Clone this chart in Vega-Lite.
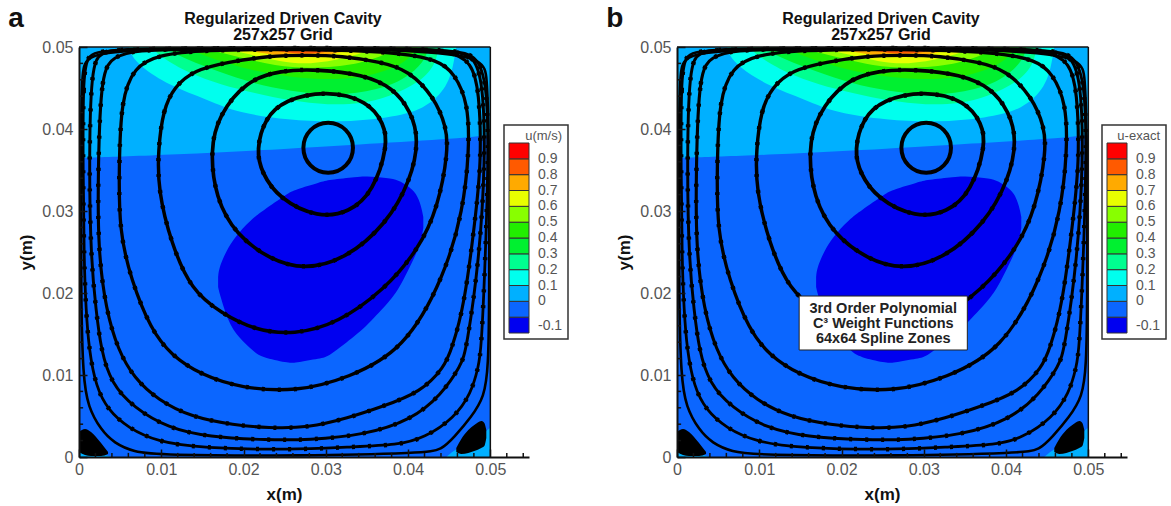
{
"$schema":"https://vega.github.io/schema/vega-lite/v6.json",
"background":"white",
"padding":{"left":8,"top":4,"right":3,"bottom":3},
"spacing":37,
"resolve":{"scale":{"color":"independent"}},
"config":{"view":{"stroke":null},"font":"Liberation Sans",
"axis":{"grid":false,"domainColor":"#111","domainWidth":2,"tickColor":"#111","tickWidth":1.5,"tickSize":-8,"labelColor":"#555","labelFont":"Liberation Sans","labelFontSize":16,"labelFlush":false,"labelOverlap":false,"titleFont":"Liberation Sans","titleFontSize":17,"titleFontWeight":"bold","titleColor":"#111"},
"legend":{"orient":"none","legendX":425,"legendY":78,"padding":5,"strokeColor":"#333","strokeWidth":1.5,"fillColor":"white","gradientLength":190,"gradientThickness":20,"labelFont":"Liberation Sans","labelFontSize":14,"labelColor":"#555","gradientLabelOffset":9,"titleFont":"Liberation Sans","titleFontSize":13,"titleFontWeight":"normal","titleColor":"#555","titlePadding":0,"titleAnchor":"end","gradientStrokeColor":"#333","gradientStrokeWidth":1}},
"datasets":{
"regions":[
{"r":"base","u":-0.05,"x":0,"y":0.05,"b":0},{"r":"base","u":-0.05,"x":0.05,"y":0.05,"b":0},
{"r":"sky","u":0.05,"x":0,"y":0.05,"b":0.03646},{"r":"sky","u":0.05,"x":0.01119,"y":0.05,"b":0.03683},{"r":"sky","u":0.05,"x":0.02701,"y":0.05,"b":0.03768},{"r":"sky","u":0.05,"x":0.03309,"y":0.05,"b":0.03805},{"r":"sky","u":0.05,"x":0.04525,"y":0.05,"b":0.03878},{"r":"sky","u":0.05,"x":0.05,"y":0.05,"b":0.03927},
{"r":"cyan","u":0.15,"x":0.00608,"y":0.05,"b":0.05},{"r":"cyan","u":0.15,"x":0.00633,"y":0.05,"b":0.04902},{"r":"cyan","u":0.15,"x":0.00754,"y":0.05,"b":0.04756},{"r":"cyan","u":0.15,"x":0.01083,"y":0.05,"b":0.04537},{"r":"cyan","u":0.15,"x":0.01569,"y":0.05,"b":0.04354},{"r":"cyan","u":0.15,"x":0.01934,"y":0.05,"b":0.04195},{"r":"cyan","u":0.15,"x":0.02543,"y":0.05,"b":0.0411},{"r":"cyan","u":0.15,"x":0.03151,"y":0.05,"b":0.04079},{"r":"cyan","u":0.15,"x":0.03759,"y":0.05,"b":0.04134},{"r":"cyan","u":0.15,"x":0.04197,"y":0.05,"b":0.04232},{"r":"cyan","u":0.15,"x":0.04489,"y":0.05,"b":0.04512},{"r":"cyan","u":0.15,"x":0.04562,"y":0.05,"b":0.04841},{"r":"cyan","u":0.15,"x":0.04586,"y":0.05,"b":0.05},
{"r":"spring","u":0.25,"x":0.00876,"y":0.05,"b":0.05},{"r":"spring","u":0.25,"x":0.00998,"y":0.05,"b":0.04878},{"r":"spring","u":0.25,"x":0.01326,"y":0.05,"b":0.04683},{"r":"spring","u":0.25,"x":0.01727,"y":0.05,"b":0.04537},{"r":"spring","u":0.25,"x":0.02129,"y":0.05,"b":0.04439},{"r":"spring","u":0.25,"x":0.02579,"y":0.05,"b":0.04341},{"r":"spring","u":0.25,"x":0.03029,"y":0.05,"b":0.04293},{"r":"spring","u":0.25,"x":0.03431,"y":0.05,"b":0.04305},{"r":"spring","u":0.25,"x":0.03759,"y":0.05,"b":0.0439},{"r":"spring","u":0.25,"x":0.0416,"y":0.05,"b":0.04573},{"r":"spring","u":0.25,"x":0.04343,"y":0.05,"b":0.04805},{"r":"spring","u":0.25,"x":0.04367,"y":0.05,"b":0.05},
{"r":"g1","u":0.35,"x":0.01058,"y":0.05,"b":0.05},{"r":"g1","u":0.35,"x":0.0118,"y":0.05,"b":0.04902},{"r":"g1","u":0.35,"x":0.01484,"y":0.05,"b":0.0478},{"r":"g1","u":0.35,"x":0.0191,"y":0.05,"b":0.04622},{"r":"g1","u":0.35,"x":0.02336,"y":0.05,"b":0.045},{"r":"g1","u":0.35,"x":0.02822,"y":0.05,"b":0.04427},{"r":"g1","u":0.35,"x":0.03248,"y":0.05,"b":0.04415},{"r":"g1","u":0.35,"x":0.03735,"y":0.05,"b":0.045},{"r":"g1","u":0.35,"x":0.04039,"y":0.05,"b":0.04658},{"r":"g1","u":0.35,"x":0.04221,"y":0.05,"b":0.04866},{"r":"g1","u":0.35,"x":0.04246,"y":0.05,"b":0.05},
{"r":"g2","u":0.45,"x":0.01302,"y":0.05,"b":0.05},{"r":"g2","u":0.45,"x":0.01484,"y":0.05,"b":0.04902},{"r":"g2","u":0.45,"x":0.01971,"y":0.05,"b":0.04744},{"r":"g2","u":0.45,"x":0.02457,"y":0.05,"b":0.04646},{"r":"g2","u":0.45,"x":0.02944,"y":0.05,"b":0.04597},{"r":"g2","u":0.45,"x":0.03431,"y":0.05,"b":0.04622},{"r":"g2","u":0.45,"x":0.03856,"y":0.05,"b":0.04744},{"r":"g2","u":0.45,"x":0.04063,"y":0.05,"b":0.04902},{"r":"g2","u":0.45,"x":0.04112,"y":0.05,"b":0.05},
{"r":"yg","u":0.55,"x":0.0145,"y":0.05,"b":0.05},{"r":"yg","u":0.55,"x":0.018,"y":0.05,"b":0.04915},{"r":"yg","u":0.55,"x":0.024,"y":0.05,"b":0.0476},{"r":"yg","u":0.55,"x":0.029,"y":0.05,"b":0.04735},{"r":"yg","u":0.55,"x":0.0345,"y":0.05,"b":0.048},{"r":"yg","u":0.55,"x":0.0375,"y":0.05,"b":0.0492},{"r":"yg","u":0.55,"x":0.039,"y":0.05,"b":0.05},
{"r":"yel","u":0.65,"x":0.0171,"y":0.05,"b":0.05},{"r":"yel","u":0.65,"x":0.0205,"y":0.05,"b":0.04915},{"r":"yel","u":0.65,"x":0.0245,"y":0.05,"b":0.0482},{"r":"yel","u":0.65,"x":0.028,"y":0.05,"b":0.04785},{"r":"yel","u":0.65,"x":0.0325,"y":0.05,"b":0.0486},{"r":"yel","u":0.65,"x":0.0363,"y":0.05,"b":0.05},
{"r":"or","u":0.75,"x":0.0185,"y":0.05,"b":0.05},{"r":"or","u":0.75,"x":0.0225,"y":0.05,"b":0.0492},{"r":"or","u":0.75,"x":0.0265,"y":0.05,"b":0.0486},{"r":"or","u":0.75,"x":0.0305,"y":0.05,"b":0.049},{"r":"or","u":0.75,"x":0.0345,"y":0.05,"b":0.05},
{"r":"orr","u":0.85,"x":0.0215,"y":0.05,"b":0.05},{"r":"orr","u":0.85,"x":0.0245,"y":0.05,"b":0.0494},{"r":"orr","u":0.85,"x":0.0275,"y":0.05,"b":0.0491},{"r":"orr","u":0.85,"x":0.0305,"y":0.05,"b":0.0494},{"r":"orr","u":0.85,"x":0.0325,"y":0.05,"b":0.05},
{"r":"red","u":0.95,"x":0.0237,"y":0.05,"b":0.05},{"r":"red","u":0.95,"x":0.0272,"y":0.05,"b":0.0495},{"r":"red","u":0.95,"x":0.031,"y":0.05,"b":0.05},
{"r":"dk","u":-0.15,"x":0.01691,"y":0.02195,"b":0.02073},{"r":"dk","u":-0.15,"x":0.01703,"y":0.02317,"b":0.02012},{"r":"dk","u":-0.15,"x":0.01813,"y":0.02561,"b":0.01646},{"r":"dk","u":-0.15,"x":0.01934,"y":0.02732,"b":0.01463},{"r":"dk","u":-0.15,"x":0.02129,"y":0.02927,"b":0.0128},{"r":"dk","u":-0.15,"x":0.02214,"y":0.02988,"b":0.0122},{"r":"dk","u":-0.15,"x":0.02543,"y":0.03219,"b":0.01146},{"r":"dk","u":-0.15,"x":0.02615,"y":0.03256,"b":0.01146},{"r":"dk","u":-0.15,"x":0.02944,"y":0.03354,"b":0.01207},{"r":"dk","u":-0.15,"x":0.03029,"y":0.03378,"b":0.0122},{"r":"dk","u":-0.15,"x":0.03394,"y":0.03415,"b":0.01512},{"r":"dk","u":-0.15,"x":0.03467,"y":0.03427,"b":0.01573},{"r":"dk","u":-0.15,"x":0.03759,"y":0.03402,"b":0.01878},{"r":"dk","u":-0.15,"x":0.03881,"y":0.03378,"b":0.02037},{"r":"dk","u":-0.15,"x":0.04002,"y":0.03305,"b":0.0228},{"r":"dk","u":-0.15,"x":0.041,"y":0.03219,"b":0.02476},{"r":"dk","u":-0.15,"x":0.0416,"y":0.03061,"b":0.02646},{"r":"dk","u":-0.15,"x":0.04185,"y":0.02927,"b":0.02793},
{"r":"cl","u":0.05,"x":0,"y":0.0014,"b":0},{"r":"cl","u":0.05,"x":0.00146,"y":0.0003,"b":0},{"r":"cl","u":0.05,"x":0.0032,"y":0.0003,"b":0},{"r":"cl","u":0.05,"x":0.0039,"y":0,"b":0},
{"r":"cr","u":0.05,"x":0.04465,"y":0,"b":0},{"r":"cr","u":0.05,"x":0.04586,"y":0.0011,"b":0},{"r":"cr","u":0.05,"x":0.04769,"y":0.00146,"b":0},{"r":"cr","u":0.05,"x":0.0489,"y":0.00207,"b":0},{"r":"cr","u":0.05,"x":0.04951,"y":0.00329,"b":0},{"r":"cr","u":0.05,"x":0.05,"y":0.00354,"b":0}
],
"blobs":[
{"k":"l","x":0,"y":0.00305,"b":0.00061},{"k":"l","x":0.00073,"y":0.00341,"b":0.00024},{"k":"l","x":0.00146,"y":0.00305,"b":0.00012},{"k":"l","x":0.00268,"y":0.00171,"b":0.00012},{"k":"l","x":0.00353,"y":0.00061,"b":0.00037},
{"k":"r","x":0.04586,"y":0.0011,"b":0.00061},{"k":"r","x":0.04647,"y":0.0022,"b":0.00037},{"k":"r","x":0.04732,"y":0.00329,"b":0.00049},{"k":"r","x":0.04805,"y":0.0039,"b":0.00073},{"k":"r","x":0.0489,"y":0.00439,"b":0.0011},{"k":"r","x":0.04927,"y":0.00415,"b":0.00134},{"k":"r","x":0.04951,"y":0.00329,"b":0.00232}
],
"streams":[
{"s":"s1","i":0,"x":0.03029,"y":0.0411},{"s":"s1","i":1,"x":0.03267,"y":0.0401},{"s":"s1","i":2,"x":0.03362,"y":0.03772},{"s":"s1","i":3,"x":0.03267,"y":0.03534},{"s":"s1","i":4,"x":0.03029,"y":0.03434},{"s":"s1","i":5,"x":0.02791,"y":0.03534},{"s":"s1","i":6,"x":0.02696,"y":0.03772},{"s":"s1","i":7,"x":0.02791,"y":0.0401},
{"s":"s2","i":0,"x":0.02155,"y":0.03745},{"s":"s2","i":1,"x":0.02256,"y":0.04128},{"s":"s2","i":2,"x":0.02498,"y":0.04356},{"s":"s2","i":3,"x":0.03007,"y":0.04471},{"s":"s2","i":4,"x":0.03514,"y":0.04344},{"s":"s2","i":5,"x":0.03706,"y":0.04064},{"s":"s2","i":6,"x":0.03756,"y":0.03809},{"s":"s2","i":7,"x":0.03578,"y":0.03235},{"s":"s2","i":8,"x":0.03286,"y":0.0298},{"s":"s2","i":9,"x":0.02904,"y":0.02916},{"s":"s2","i":10,"x":0.02434,"y":0.03146},{"s":"s2","i":11,"x":0.02219,"y":0.03465},
{"s":"s3","i":0,"x":0.01595,"y":0.0375},{"s":"s3","i":1,"x":0.01695,"y":0.04164},{"s":"s3","i":2,"x":0.02033,"y":0.0459},{"s":"s3","i":3,"x":0.02445,"y":0.04716},{"s":"s3","i":4,"x":0.02908,"y":0.04728},{"s":"s3","i":5,"x":0.03447,"y":0.04665},{"s":"s3","i":6,"x":0.03821,"y":0.04503},{"s":"s3","i":7,"x":0.04034,"y":0.04214},{"s":"s3","i":8,"x":0.04134,"y":0.03876},{"s":"s3","i":9,"x":0.04034,"y":0.03374},{"s":"s3","i":10,"x":0.03734,"y":0.02835},{"s":"s3","i":11,"x":0.03234,"y":0.02409},{"s":"s3","i":12,"x":0.02733,"y":0.02283},{"s":"s3","i":13,"x":0.02321,"y":0.02409},{"s":"s3","i":14,"x":0.01908,"y":0.0271},{"s":"s3","i":15,"x":0.01658,"y":0.03161},
{"s":"s4","i":0,"x":0.00961,"y":0.03744},{"s":"s4","i":1,"x":0.01022,"y":0.04232},{"s":"s4","i":2,"x":0.01156,"y":0.04512},{"s":"s4","i":3,"x":0.01399,"y":0.04719},{"s":"s4","i":4,"x":0.01813,"y":0.04817},{"s":"s4","i":5,"x":0.02299,"y":0.0489},{"s":"s4","i":6,"x":0.02786,"y":0.04902},{"s":"s4","i":7,"x":0.03187,"y":0.0489},{"s":"s4","i":8,"x":0.03674,"y":0.04817},{"s":"s4","i":9,"x":0.04002,"y":0.04719},{"s":"s4","i":10,"x":0.04319,"y":0.0439},{"s":"s4","i":11,"x":0.04465,"y":0.04024},{"s":"s4","i":12,"x":0.04489,"y":0.03744},{"s":"s4","i":13,"x":0.04367,"y":0.03049},{"s":"s4","i":14,"x":0.04124,"y":0.02524},{"s":"s4","i":15,"x":0.0371,"y":0.02037},{"s":"s4","i":16,"x":0.03151,"y":0.01634},{"s":"s4","i":17,"x":0.02615,"y":0.01488},{"s":"s4","i":18,"x":0.02129,"y":0.01549},{"s":"s4","i":19,"x":0.01727,"y":0.01756},{"s":"s4","i":20,"x":0.01362,"y":0.02037},{"s":"s4","i":21,"x":0.01119,"y":0.0261},{"s":"s4","i":22,"x":0.00961,"y":0.03256},
{"s":"s5","i":0,"x":0.00487,"y":0.03537},{"s":"s5","i":1,"x":0.00511,"y":0.04354},{"s":"s5","i":2,"x":0.00669,"y":0.04756},{"s":"s5","i":3,"x":0.00961,"y":0.04902},{"s":"s5","i":4,"x":0.01484,"y":0.04963},{"s":"s5","i":5,"x":0.02701,"y":0.04976},{"s":"s5","i":6,"x":0.03881,"y":0.04939},{"s":"s5","i":7,"x":0.04367,"y":0.04841},{"s":"s5","i":8,"x":0.04562,"y":0.04683},{"s":"s5","i":9,"x":0.04732,"y":0.04317},{"s":"s5","i":10,"x":0.04744,"y":0.03744},{"s":"s5","i":11,"x":0.04671,"y":0.03012},{"s":"s5","i":12,"x":0.0444,"y":0.02195},{"s":"s5","i":13,"x":0.03954,"y":0.01305},{"s":"s5","i":14,"x":0.03272,"y":0.00963},{"s":"s5","i":15,"x":0.0264,"y":0.00793},{"s":"s5","i":16,"x":0.01971,"y":0.00841},{"s":"s5","i":17,"x":0.01484,"y":0.01},{"s":"s5","i":18,"x":0.01119,"y":0.01244},{"s":"s5","i":19,"x":0.00876,"y":0.01549},{"s":"s5","i":20,"x":0.00633,"y":0.02159},{"s":"s5","i":21,"x":0.00487,"y":0.02768},
{"s":"s6","i":0,"x":0.00231,"y":0.035},{"s":"s6","i":1,"x":0.00268,"y":0.04719},{"s":"s6","i":2,"x":0.00426,"y":0.04878},{"s":"s6","i":3,"x":0.00669,"y":0.04963},{"s":"s6","i":4,"x":0.01484,"y":0.04982},{"s":"s6","i":5,"x":0.03917,"y":0.04976},{"s":"s6","i":6,"x":0.04525,"y":0.04951},{"s":"s6","i":7,"x":0.04769,"y":0.04817},{"s":"s6","i":8,"x":0.04866,"y":0.04476},{"s":"s6","i":9,"x":0.0489,"y":0.03622},{"s":"s6","i":10,"x":0.0483,"y":0.03012},{"s":"s6","i":11,"x":0.04684,"y":0.01829},{"s":"s6","i":12,"x":0.04525,"y":0.01305},{"s":"s6","i":13,"x":0.0444,"y":0.01098},{"s":"s6","i":14,"x":0.0416,"y":0.00793},{"s":"s6","i":15,"x":0.03674,"y":0.0061},{"s":"s6","i":16,"x":0.03272,"y":0.00476},{"s":"s6","i":17,"x":0.02786,"y":0.00354},{"s":"s6","i":18,"x":0.02299,"y":0.00354},{"s":"s6","i":19,"x":0.01886,"y":0.0039},{"s":"s6","i":20,"x":0.01362,"y":0.00488},{"s":"s6","i":21,"x":0.00961,"y":0.00695},{"s":"s6","i":22,"x":0.00669,"y":0.00963},{"s":"s6","i":23,"x":0.00474,"y":0.01305},{"s":"s6","i":24,"x":0.00328,"y":0.01793},{"s":"s6","i":25,"x":0.00231,"y":0.02524},
{"s":"s7","i":0,"x":0.00122,"y":0.035},{"s":"s7","i":1,"x":0.00146,"y":0.0478},{"s":"s7","i":2,"x":0.00268,"y":0.04939},{"s":"s7","i":3,"x":0.00511,"y":0.04982},{"s":"s7","i":4,"x":0.02701,"y":0.04988},{"s":"s7","i":5,"x":0.04586,"y":0.04976},{"s":"s7","i":6,"x":0.0483,"y":0.04866},{"s":"s7","i":7,"x":0.04915,"y":0.04476},{"s":"s7","i":8,"x":0.04939,"y":0.03622},{"s":"s7","i":9,"x":0.04866,"y":0.02402},{"s":"s7","i":10,"x":0.04708,"y":0.01305},{"s":"s7","i":11,"x":0.04647,"y":0.01122},{"s":"s7","i":12,"x":0.04404,"y":0.00756},{"s":"s7","i":13,"x":0.04039,"y":0.00451},{"s":"s7","i":14,"x":0.03467,"y":0.00268},{"s":"s7","i":15,"x":0.02786,"y":0.00207},{"s":"s7","i":16,"x":0.02299,"y":0.00207},{"s":"s7","i":17,"x":0.01569,"y":0.00244},{"s":"s7","i":18,"x":0.01083,"y":0.00354},{"s":"s7","i":19,"x":0.00669,"y":0.00598},{"s":"s7","i":20,"x":0.00389,"y":0.00902},{"s":"s7","i":21,"x":0.00268,"y":0.01305},{"s":"s7","i":22,"x":0.00207,"y":0.01793},{"s":"s7","i":23,"x":0.00146,"y":0.02402},
{"s":"s8","i":0,"x":0.00049,"y":0.035},{"s":"s8","i":1,"x":0.00049,"y":0.04597},{"s":"s8","i":2,"x":0.00097,"y":0.04902},{"s":"s8","i":3,"x":0.00268,"y":0.04976},{"s":"s8","i":4,"x":0.02701,"y":0.0499},{"s":"s8","i":5,"x":0.04586,"y":0.04982},{"s":"s8","i":6,"x":0.04866,"y":0.04878},{"s":"s8","i":7,"x":0.04963,"y":0.04476},{"s":"s8","i":8,"x":0.04976,"y":0.03622},{"s":"s8","i":9,"x":0.04939,"y":0.02402},{"s":"s8","i":10,"x":0.0489,"y":0.01305},{"s":"s8","i":11,"x":0.04854,"y":0.01098},{"s":"s8","i":12,"x":0.04769,"y":0.0078},{"s":"s8","i":13,"x":0.04562,"y":0.00476},{"s":"s8","i":14,"x":0.04197,"y":0.00232},{"s":"s8","i":15,"x":0.03881,"y":0.00146},{"s":"s8","i":16,"x":0.03272,"y":0.00122},{"s":"s8","i":17,"x":0.02579,"y":0.00085},{"s":"s8","i":18,"x":0.01484,"y":0.0011},{"s":"s8","i":19,"x":0.00961,"y":0.00183},{"s":"s8","i":20,"x":0.00596,"y":0.00354},{"s":"s8","i":21,"x":0.00353,"y":0.00573},{"s":"s8","i":22,"x":0.00207,"y":0.00854},{"s":"s8","i":23,"x":0.00122,"y":0.01305},{"s":"s8","i":24,"x":0.00085,"y":0.01793},{"s":"s8","i":25,"x":0.00061,"y":0.02402},
{"s":"s9","i":0,"x":0.00024,"y":0.035},{"s":"s9","i":1,"x":0.00024,"y":0.04841},{"s":"s9","i":2,"x":0.00146,"y":0.04988},{"s":"s9","i":3,"x":0.0489,"y":0.04988},{"s":"s9","i":4,"x":0.04963,"y":0.04719},{"s":"s9","i":5,"x":0.04988,"y":0.03622},{"s":"s9","i":6,"x":0.04988,"y":0.01915},{"s":"s9","i":7,"x":0.04976,"y":0.01098},{"s":"s9","i":8,"x":0.04927,"y":0.00732},{"s":"s9","i":9,"x":0.04769,"y":0.00488},{"s":"s9","i":10,"x":0.04562,"y":0.00244},{"s":"s9","i":11,"x":0.04404,"y":0.00085},{"s":"s9","i":12,"x":0.04197,"y":0.00049},{"s":"s9","i":13,"x":0.02701,"y":0.00012},{"s":"s9","i":14,"x":0.00961,"y":0.00024},{"s":"s9","i":15,"x":0.00669,"y":0.00061},{"s":"s9","i":16,"x":0.00426,"y":0.00171},{"s":"s9","i":17,"x":0.00268,"y":0.00329},{"s":"s9","i":18,"x":0.00109,"y":0.0061},{"s":"s9","i":19,"x":0.00049,"y":0.00976},{"s":"s9","i":20,"x":0.00024,"y":0.01915}
],
"xminor":[{"x":0.002,"y":0,"b":0.0005},{"x":0.004,"y":0,"b":0.0005},{"x":0.006,"y":0,"b":0.0005},{"x":0.008,"y":0,"b":0.0005},{"x":0.012,"y":0,"b":0.0005},{"x":0.014,"y":0,"b":0.0005},{"x":0.016,"y":0,"b":0.0005},{"x":0.018,"y":0,"b":0.0005},{"x":0.022,"y":0,"b":0.0005},{"x":0.024,"y":0,"b":0.0005},{"x":0.026,"y":0,"b":0.0005},{"x":0.028,"y":0,"b":0.0005},{"x":0.032,"y":0,"b":0.0005},{"x":0.034,"y":0,"b":0.0005},{"x":0.036,"y":0,"b":0.0005},{"x":0.038,"y":0,"b":0.0005},{"x":0.042,"y":0,"b":0.0005},{"x":0.044,"y":0,"b":0.0005},{"x":0.046,"y":0,"b":0.0005},{"x":0.048,"y":0,"b":0.0005},{"x":0.052,"y":0,"b":0.0005},{"x":0.054,"y":0,"b":0.0005},{"x":0.05,"y":0,"b":0.05}],
"yminor":[{"y":0.002,"x":0,"b":0.0005},{"y":0.004,"x":0,"b":0.0005},{"y":0.006,"x":0,"b":0.0005},{"y":0.008,"x":0,"b":0.0005},{"y":0.012,"x":0,"b":0.0005},{"y":0.014,"x":0,"b":0.0005},{"y":0.016,"x":0,"b":0.0005},{"y":0.018,"x":0,"b":0.0005},{"y":0.022,"x":0,"b":0.0005},{"y":0.024,"x":0,"b":0.0005},{"y":0.026,"x":0,"b":0.0005},{"y":0.028,"x":0,"b":0.0005},{"y":0.032,"x":0,"b":0.0005},{"y":0.034,"x":0,"b":0.0005},{"y":0.036,"x":0,"b":0.0005},{"y":0.038,"x":0,"b":0.0005},{"y":0.042,"x":0,"b":0.0005},{"y":0.044,"x":0,"b":0.0005},{"y":0.046,"x":0,"b":0.0005},{"y":0.048,"x":0,"b":0.0005},{"y":0.05,"x":0,"b":0.05}]
},
"hconcat":[
{"width":450,"height":410,
"title":{"text":["Regularized Driven Cavity","257x257 Grid"],"font":"Liberation Sans","fontSize":16,"fontWeight":"bold","color":"#111","anchor":"middle","dx":-21,"offset":-38,"lineHeight":16},
"encoding":{"x":{"field":"x","type":"quantitative","title":"x(m)","scale":{"domain":[0,0.0547],"nice":false,"zero":false},"axis":{"values":[0,0.01,0.02,0.03,0.04,0.05],"format":"~g","labelPadding":12,"titleX":205,"titleY":29,"zindex":1}},"y":{"field":"y","type":"quantitative","title":"y(m)","scale":{"domain":[0,0.05],"nice":false,"zero":false},"axis":{"values":[0,0.01,0.02,0.03,0.04,0.05],"format":"~g","labelPadding":14,"titlePadding":6,"zindex":1}}},
"layer":[
{"data":{"name":"regions"},"mark":{"type":"area","orient":"vertical","interpolate":"basis"},"encoding":{"y2":{"field":"b"},"detail":{"field":"r"},"color":{"field":"u","type":"quantitative","title":"u(m/s)","scale":{"type":"threshold","domain":[-0.1,0,0.1,0.2,0.3,0.4,0.5,0.6,0.7,0.8,0.9],"range":["#0000f0","#0b66ff","#00b0ff","#00ffee","#00ff90","#00f030","#22ee00","#88ff00","#e8ff00","#ffaa00","#ff5a00","#ff0000"]},"legend":{"type":"gradient","format":"~g","labelExpr":"datum.value<0?'-0.1':datum.label"}}}},
{"data":{"name":"blobs"},"mark":{"type":"area","orient":"vertical","interpolate":"monotone","color":"#000"},"encoding":{"y2":{"field":"b"},"detail":{"field":"k"}}},
{"data":{"name":"streams"},"mark":{"type":"line","interpolate":"basis-closed","color":"#000"},"encoding":{"order":{"field":"i","type":"quantitative"},"detail":{"field":"s"},"strokeWidth":{"field":"s","type":"nominal","legend":null,"scale":{"domain":["s1","s2","s3","s4","s5","s6","s7","s8","s9"],"range":[4,2.6,1.6,1.6,1.5,1.8,2,3,1]}}}},
{"data":{"name":"streams"},"transform":[{"filter":"datum.s!='s1'&&datum.s!='s9'"}],"mark":{"type":"line","interpolate":"basis-closed","color":"#000","strokeWidth":4.5,"strokeDash":[3,13]},"encoding":{"order":{"field":"i","type":"quantitative"},"detail":{"field":"s"}}},
{"data":{"name":"xminor"},"mark":{"type":"rule","color":"#111","strokeWidth":1.5},"encoding":{"y2":{"field":"b"}}},
{"data":{"name":"yminor"},"mark":{"type":"rule","color":"#111","strokeWidth":1.5},"encoding":{"x2":{"field":"b"}}},
{"data":{"values":[{"x":-0.0086,"y":0.0525,"t":"a"}]},"mark":{"type":"text","font":"Liberation Sans","fontWeight":"bold","fontSize":28,"align":"left","baseline":"alphabetic","color":"#111"},"encoding":{"text":{"field":"t"}}}
]},
{"width":450,"height":410,
"title":{"text":["Regularized Driven Cavity","257x257 Grid"],"font":"Liberation Sans","fontSize":16,"fontWeight":"bold","color":"#111","anchor":"middle","dx":-21,"offset":-38,"lineHeight":16},
"encoding":{"x":{"field":"x","type":"quantitative","title":"x(m)","scale":{"domain":[0,0.0547],"nice":false,"zero":false},"axis":{"values":[0,0.01,0.02,0.03,0.04,0.05],"format":"~g","labelPadding":12,"titleX":205,"titleY":29,"zindex":1}},"y":{"field":"y","type":"quantitative","title":"y(m)","scale":{"domain":[0,0.05],"nice":false,"zero":false},"axis":{"values":[0,0.01,0.02,0.03,0.04,0.05],"format":"~g","labelPadding":14,"titlePadding":6,"zindex":1}}},
"layer":[
{"data":{"name":"regions"},"mark":{"type":"area","orient":"vertical","interpolate":"basis"},"encoding":{"y2":{"field":"b"},"detail":{"field":"r"},"color":{"field":"u","type":"quantitative","title":"u-exact","scale":{"type":"threshold","domain":[-0.1,0,0.1,0.2,0.3,0.4,0.5,0.6,0.7,0.8,0.9],"range":["#0000f0","#0b66ff","#00b0ff","#00ffee","#00ff90","#00f030","#22ee00","#88ff00","#e8ff00","#ffaa00","#ff5a00","#ff0000"]},"legend":{"type":"gradient","format":"~g","labelExpr":"datum.value<0?'-0.1':datum.label"}}}},
{"data":{"name":"blobs"},"mark":{"type":"area","orient":"vertical","interpolate":"monotone","color":"#000"},"encoding":{"y2":{"field":"b"},"detail":{"field":"k"}}},
{"data":{"name":"streams"},"mark":{"type":"line","interpolate":"basis-closed","color":"#000"},"encoding":{"order":{"field":"i","type":"quantitative"},"detail":{"field":"s"},"strokeWidth":{"field":"s","type":"nominal","legend":null,"scale":{"domain":["s1","s2","s3","s4","s5","s6","s7","s8","s9"],"range":[4,2.6,1.6,1.6,1.5,1.8,2,3,1]}}}},
{"data":{"name":"streams"},"transform":[{"filter":"datum.s!='s1'&&datum.s!='s9'"}],"mark":{"type":"line","interpolate":"basis-closed","color":"#000","strokeWidth":4.5,"strokeDash":[3,13]},"encoding":{"order":{"field":"i","type":"quantitative"},"detail":{"field":"s"}}},
{"data":{"name":"xminor"},"mark":{"type":"rule","color":"#111","strokeWidth":1.5},"encoding":{"y2":{"field":"b"}}},
{"data":{"name":"yminor"},"mark":{"type":"rule","color":"#111","strokeWidth":1.5},"encoding":{"x2":{"field":"b"}}},
{"data":{"values":[{"x":-0.0086,"y":0.0525,"t":"b"}]},"mark":{"type":"text","font":"Liberation Sans","fontWeight":"bold","fontSize":28,"align":"left","baseline":"alphabetic","color":"#111"},"encoding":{"text":{"field":"t"}}},
{"data":{"values":[{"x":0.01485,"x1":0.03529,"y":0.01963,"y1":0.01305}]},"mark":{"type":"rect","fill":"white","stroke":"#222","strokeWidth":1},"encoding":{"x2":{"field":"x1"},"y2":{"field":"y1"}}},
{"data":{"values":[{"x":0.02507,"y":0.01805,"t":"3rd Order Polynomial"},{"x":0.02507,"y":0.01616,"t":"C³ Weight Functions"},{"x":0.02507,"y":0.01439,"t":"64x64 Spline Zones"}]},"mark":{"type":"text","font":"Liberation Sans","fontWeight":"bold","fontSize":14.5,"align":"center","baseline":"middle","color":"#222"},"encoding":{"text":{"field":"t"}}}
]}
]}
